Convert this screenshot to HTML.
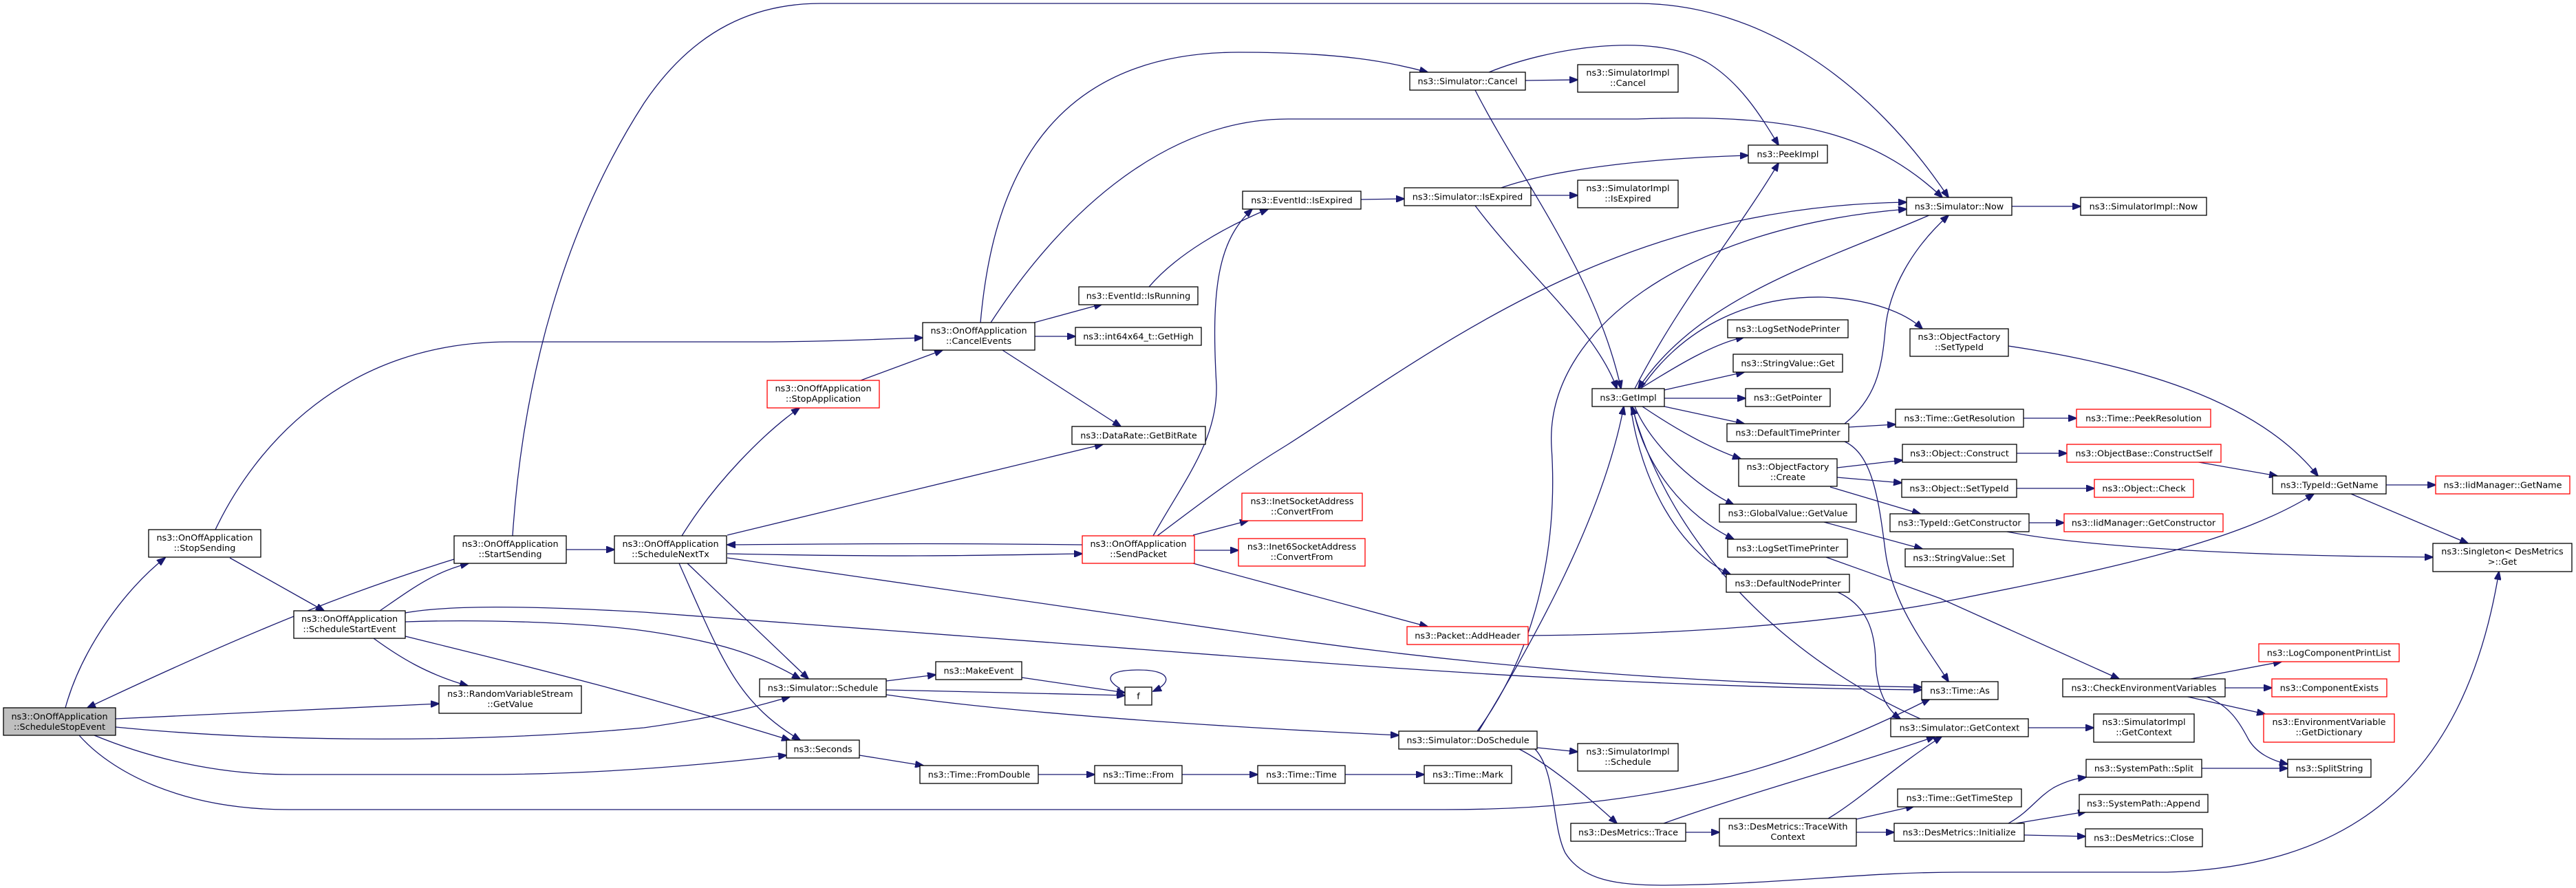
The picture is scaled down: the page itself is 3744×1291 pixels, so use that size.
<!DOCTYPE html>
<html><head><meta charset="utf-8"><style>
html,body{margin:0;padding:0;background:#fff;}
svg{display:block;}
text{font-family:"DejaVu Sans","Liberation Sans",sans-serif;font-size:12.8px;fill:#000;text-anchor:middle;}
.n{fill:#fff;stroke:#000;stroke-width:1.3;}
.r{fill:#fff;stroke:#ff0000;stroke-width:1.3;}
.g{fill:#bfbfbf;stroke:#000;stroke-width:1.3;}
.e{fill:none;stroke:#191970;stroke-width:1.3;marker-end:url(#a);}
</style></head><body>
<svg width="3744" height="1291" viewBox="0 0 3744 1291" xmlns="http://www.w3.org/2000/svg">
<defs><marker id="a" markerWidth="13" markerHeight="10" refX="12" refY="5" orient="auto" markerUnits="userSpaceOnUse"><path d="M0,0 L13,5 L0,10 z" fill="#191970" stroke="#191970"/></marker></defs>
<rect width="3744" height="1291" fill="#fff"/>
<!-- edges -->
<path class="e" d="M95,1029 C118,945 180,858 240,811"/>
<path class="e" d="M168,1045 L638,1023"/>
<path class="e" d="M168,1057 C400,1080 700,1080 936,1058 C1030,1045 1090,1030 1148,1013"/>
<path class="e" d="M137,1069 C200,1095 300,1126 420,1126 L700,1126 C850,1126 1000,1115 1143,1098"/>
<path class="e" d="M115,1069 C160,1120 260,1177 420,1177 L2100,1177 C2400,1177 2600,1120 2805,1016"/>
<path class="e" d="M660,813 C540,850 400,900 127,1029"/>
<path class="e" d="M313,770 C370,650 500,497 740,497 L1100,497 C1200,497 1280,493 1341,491"/>
<path class="e" d="M334,811 L471,888"/>
<path class="e" d="M552,888 C600,855 630,832 681,819"/>
<path class="e" d="M543,928 C580,955 620,980 680,997"/>
<path class="e" d="M589,891 C650,880 760,880 936,890 L1872,960 C2200,985 2500,1000 2793,1003"/>
<path class="e" d="M589,904 C700,900 850,905 936,917 C1040,932 1100,950 1163,987"/>
<path class="e" d="M589,925 C750,965 900,1000 1148,1076"/>
<path class="e" d="M823,799 L893,799"/>
<path class="e" d="M745,779 C760,550 820,330 936,150 C1010,40 1100,5 1193,5 L2379,5 C2560,5 2720,120 2832,287"/>
<path class="e" d="M991,779 C1040,700 1110,630 1162,593"/>
<path class="e" d="M1251,553 L1370,509"/>
<path class="e" d="M1057,778 L1603,646"/>
<path class="e" d="M1057,805 C1300,810 1400,808 1573,805"/>
<path class="e" d="M1573,792 C1400,790 1300,790 1057,792"/>
<path class="e" d="M1057,811 L1872,929 C2200,975 2500,995 2793,999"/>
<path class="e" d="M999,819 L1175,987"/>
<path class="e" d="M987,819 C1050,960 1070,1020 1163,1076"/>
<path class="e" d="M1425,469 C1440,300 1500,76 1800,76 C1950,76 2020,90 2075,105"/>
<path class="e" d="M1440,469 C1550,300 1700,173 1872,173 L2380,173 C2600,165 2720,190 2823,287"/>
<path class="e" d="M1503,469 L1602,442"/>
<path class="e" d="M1504,489 L1563,489"/>
<path class="e" d="M1457,509 L1629,620"/>
<path class="e" d="M1670,417 C1710,370 1780,330 1843,304"/>
<path class="e" d="M1676,779 C1720,700 1770,640 1768,560 C1760,420 1770,350 1820,304"/>
<path class="e" d="M1682,779 C1760,720 1800,690 1872,646 C2100,500 2350,300 2771,294"/>
<path class="e" d="M1734,778 L1814,757"/>
<path class="e" d="M1736,800 L1800,800"/>
<path class="e" d="M1734,819 L2075,911"/>
<path class="e" d="M1978,290 L2041,289"/>
<path class="e" d="M2217,117 L2293,116"/>
<path class="e" d="M2164,105 C2250,70 2400,45 2480,90 C2530,120 2560,170 2585,211"/>
<path class="e" d="M2144,131 C2210,260 2320,400 2356,565"/>
<path class="e" d="M2225,284 L2293,284"/>
<path class="e" d="M2179,274 C2260,245 2400,230 2541,226"/>
<path class="e" d="M2144,299 C2220,400 2320,480 2350,565"/>
<path class="e" d="M2376,565 C2440,440 2530,330 2585,237"/>
<path class="e" d="M2806,312 C2650,380 2470,430 2381,565"/>
<path class="e" d="M2147,1063 C2230,950 2265,800 2255,650 C2245,480 2450,330 2771,304"/>
<path class="e" d="M2149,1063 C2230,930 2330,750 2360,591"/>
<path class="e" d="M2791,1045 C2600,960 2430,800 2372,591"/>
<path class="e" d="M2385,565 C2450,470 2550,430 2650,432 C2720,435 2770,455 2794,478"/>
<path class="e" d="M2384,565 C2440,530 2490,500 2535,490"/>
<path class="e" d="M2419,567 L2535,541"/>
<path class="e" d="M2419,579 L2537,579"/>
<path class="e" d="M2419,591 L2535,616"/>
<path class="e" d="M2387,591 C2430,620 2480,650 2530,667"/>
<path class="e" d="M2376,591 C2400,650 2470,710 2520,734"/>
<path class="e" d="M2373,591 C2390,680 2450,750 2520,784"/>
<path class="e" d="M2370,591 C2385,700 2440,800 2515,835"/>
<path class="e" d="M2234,1087 L2293,1093"/>
<path class="e" d="M2206,1088 C2250,1110 2310,1160 2350,1197"/>
<path class="e" d="M2230,1088 C2262,1120 2255,1200 2275,1240 C2300,1280 2350,1287 2420,1287 C2600,1285 2700,1268 2850,1268 L3150,1268 C3400,1260 3580,1150 3632,831"/>
<path class="e" d="M1288,1010 C1500,1040 1800,1058 2033,1069"/>
<path class="e" d="M1288,990 L1360,981"/>
<path class="e" d="M1288,1003 L1635,1011"/>
<path class="e" d="M1485,985 L1635,1007"/>
<path class="e" d="M1628,1001 C1605,988 1608,974 1655,974 C1702,974 1705,992 1676,1005"/>
<path class="e" d="M1249,1098 L1342,1113"/>
<path class="e" d="M1509,1126 L1591,1126"/>
<path class="e" d="M1718,1126 L1828,1126"/>
<path class="e" d="M1955,1126 L2070,1126"/>
<path class="e" d="M2450,1210 L2499,1210"/>
<path class="e" d="M2418,1197 C2550,1150 2700,1110 2812,1071"/>
<path class="e" d="M2657,1190 C2700,1165 2760,1110 2822,1071"/>
<path class="e" d="M2698,1191 L2782,1172"/>
<path class="e" d="M2698,1210 L2753,1210"/>
<path class="e" d="M2919,1197 C2950,1180 2960,1160 2985,1145 C3000,1137 3015,1132 3032,1130"/>
<path class="e" d="M2930,1197 L3032,1180"/>
<path class="e" d="M2942,1214 L3031,1216"/>
<path class="e" d="M3200,1117 L3325,1117"/>
<path class="e" d="M3184,987 L3316,962"/>
<path class="e" d="M3234,1000 L3302,1000"/>
<path class="e" d="M3175,1012 L3292,1038"/>
<path class="e" d="M3205,1012 C3240,1025 3255,1050 3268,1075 C3280,1095 3300,1105 3325,1111"/>
<path class="e" d="M2654,810 C2710,830 2760,848 2820,870 L3080,987"/>
<path class="e" d="M2669,860 C2715,880 2725,920 2726,960 C2727,1000 2740,1030 2762,1045"/>
<path class="e" d="M2221,924 C2500,922 2700,900 2850,870 C3050,830 3250,790 3363,718"/>
<path class="e" d="M2919,503 C3100,530 3280,580 3369,692"/>
<path class="e" d="M3190,671 L3310,692"/>
<path class="e" d="M3468,705 L3540,705"/>
<path class="e" d="M3417,718 L3587,790"/>
<path class="e" d="M2912,772 C3000,790 3200,808 3536,810"/>
<path class="e" d="M2949,760 L3000,760"/>
<path class="e" d="M2931,659 L3004,659"/>
<path class="e" d="M2931,710 L3044,710"/>
<path class="e" d="M2687,621 L2755,617"/>
<path class="e" d="M2681,616 C2725,580 2735,540 2740,480 C2745,420 2780,360 2832,313"/>
<path class="e" d="M2681,642 C2720,660 2730,720 2740,800 C2750,880 2800,940 2832,991"/>
<path class="e" d="M2670,680 L2765,669"/>
<path class="e" d="M2670,694 L2764,702"/>
<path class="e" d="M2660,708 L2791,747"/>
<path class="e" d="M2651,759 L2794,798"/>
<path class="e" d="M2924,300 L3024,300"/>
<path class="e" d="M2941,608 L3018,608"/>
<path class="e" d="M2948,1058 L3043,1058"/>
<!-- nodes -->
<rect class="g" x="5" y="1029" width="163" height="40"/><text x="86.5" y="1046">ns3::OnOffApplication</text><text x="86.5" y="1061">::ScheduleStopEvent</text>
<rect class="n" x="216" y="770" width="163" height="40"/><text x="297.5" y="786">ns3::OnOffApplication</text><text x="297.5" y="801">::StopSending</text>
<rect class="n" x="660" y="779" width="163" height="40"/><text x="741.5" y="795">ns3::OnOffApplication</text><text x="741.5" y="810">::StartSending</text>
<rect class="n" x="427" y="888" width="162" height="40"/><text x="508" y="904">ns3::OnOffApplication</text><text x="508" y="919">::ScheduleStartEvent</text>
<rect class="n" x="638" y="997" width="207" height="40"/><text x="741.5" y="1013">ns3::RandomVariableStream</text><text x="741.5" y="1028">::GetValue</text>
<rect class="n" x="893" y="779" width="163" height="40"/><text x="974.5" y="795">ns3::OnOffApplication</text><text x="974.5" y="810">::ScheduleNextTx</text>
<rect class="n" x="1341" y="469" width="163" height="40"/><text x="1422.5" y="485">ns3::OnOffApplication</text><text x="1422.5" y="500">::CancelEvents</text>
<rect class="r" x="1115" y="553" width="163" height="40"/><text x="1196.5" y="569">ns3::OnOffApplication</text><text x="1196.5" y="584">::StopApplication</text>
<rect class="n" x="1568" y="417" width="173" height="26"/><text x="1654.5" y="434.5">ns3::EventId::IsRunning</text>
<rect class="n" x="1563" y="476" width="183" height="26"/><text x="1654.5" y="493.5">ns3::int64x64_t::GetHigh</text>
<rect class="n" x="1558" y="620" width="194" height="26"/><text x="1655" y="637.5">ns3::DataRate::GetBitRate</text>
<rect class="r" x="1573" y="779" width="163" height="40"/><text x="1654.5" y="795">ns3::OnOffApplication</text><text x="1654.5" y="810">::SendPacket</text>
<rect class="r" x="1805" y="717" width="175" height="40"/><text x="1892.5" y="733">ns3::InetSocketAddress</text><text x="1892.5" y="748">::ConvertFrom</text>
<rect class="r" x="1800" y="783" width="184" height="40"/><text x="1892" y="799">ns3::Inet6SocketAddress</text><text x="1892" y="814">::ConvertFrom</text>
<rect class="n" x="1104" y="987" width="184" height="26"/><text x="1196" y="1004.5">ns3::Simulator::Schedule</text>
<rect class="n" x="1360" y="962" width="125" height="26"/><text x="1422.5" y="979.5">ns3::MakeEvent</text>
<rect class="n" x="1635" y="999" width="39" height="26"/><text x="1654.5" y="1016.5">f</text>
<rect class="n" x="1143" y="1076" width="106" height="26"/><text x="1196" y="1093.5">ns3::Seconds</text>
<rect class="n" x="1337" y="1113" width="172" height="26"/><text x="1423" y="1130.5">ns3::Time::FromDouble</text>
<rect class="n" x="1591" y="1113" width="127" height="26"/><text x="1654.5" y="1130.5">ns3::Time::From</text>
<rect class="n" x="1828" y="1113" width="127" height="26"/><text x="1891.5" y="1130.5">ns3::Time::Time</text>
<rect class="n" x="2070" y="1113" width="127" height="26"/><text x="2133.5" y="1130.5">ns3::Time::Mark</text>
<rect class="n" x="1806" y="278" width="172" height="26"/><text x="1892" y="295.5">ns3::EventId::IsExpired</text>
<rect class="n" x="2049" y="105" width="168" height="26"/><text x="2133" y="122.5">ns3::Simulator::Cancel</text>
<rect class="n" x="2293" y="94" width="146" height="40"/><text x="2366" y="110">ns3::SimulatorImpl</text><text x="2366" y="125">::Cancel</text>
<rect class="n" x="2041" y="273" width="184" height="26"/><text x="2133" y="290.5">ns3::Simulator::IsExpired</text>
<rect class="n" x="2293" y="262" width="146" height="40"/><text x="2366" y="278">ns3::SimulatorImpl</text><text x="2366" y="293">::IsExpired</text>
<rect class="n" x="2541" y="211" width="115" height="26"/><text x="2598.5" y="228.5">ns3::PeekImpl</text>
<rect class="n" x="2771" y="287" width="153" height="26"/><text x="2847.5" y="304.5">ns3::Simulator::Now</text>
<rect class="n" x="3024" y="287" width="183" height="26"/><text x="3115.5" y="304.5">ns3::SimulatorImpl::Now</text>
<rect class="n" x="2314" y="565" width="105" height="26"/><text x="2366.5" y="582.5">ns3::GetImpl</text>
<rect class="n" x="2511" y="465" width="175" height="26"/><text x="2598.5" y="482.5">ns3::LogSetNodePrinter</text>
<rect class="n" x="2519" y="515" width="159" height="26"/><text x="2598.5" y="532.5">ns3::StringValue::Get</text>
<rect class="n" x="2537" y="565" width="123" height="26"/><text x="2598.5" y="582.5">ns3::GetPointer</text>
<rect class="n" x="2510" y="616" width="177" height="26"/><text x="2598.5" y="633.5">ns3::DefaultTimePrinter</text>
<rect class="n" x="2776" y="478" width="143" height="40"/><text x="2847.5" y="494">ns3::ObjectFactory</text><text x="2847.5" y="509">::SetTypeId</text>
<rect class="n" x="2527" y="667" width="143" height="40"/><text x="2598.5" y="683">ns3::ObjectFactory</text><text x="2598.5" y="698">::Create</text>
<rect class="n" x="2499" y="733" width="199" height="26"/><text x="2598.5" y="750.5">ns3::GlobalValue::GetValue</text>
<rect class="n" x="2511" y="784" width="174" height="26"/><text x="2598" y="801.5">ns3::LogSetTimePrinter</text>
<rect class="n" x="2509" y="835" width="179" height="26"/><text x="2598.5" y="852.5">ns3::DefaultNodePrinter</text>
<rect class="r" x="2045" y="911" width="176" height="26"/><text x="2133" y="928.5">ns3::Packet::AddHeader</text>
<rect class="n" x="2033" y="1063" width="201" height="26"/><text x="2133.5" y="1080.5">ns3::Simulator::DoSchedule</text>
<rect class="n" x="2293" y="1081" width="146" height="40"/><text x="2366" y="1097">ns3::SimulatorImpl</text><text x="2366" y="1112">::Schedule</text>
<rect class="n" x="2283" y="1197" width="167" height="26"/><text x="2366.5" y="1214.5">ns3::DesMetrics::Trace</text>
<rect class="n" x="2499" y="1190" width="199" height="40"/><text x="2598.5" y="1206">ns3::DesMetrics::TraceWith</text><text x="2598.5" y="1221">Context</text>
<rect class="n" x="2755" y="595" width="186" height="26"/><text x="2848" y="612.5">ns3::Time::GetResolution</text>
<rect class="r" x="3018" y="595" width="195" height="26"/><text x="3115.5" y="612.5">ns3::Time::PeekResolution</text>
<rect class="n" x="2765" y="646" width="166" height="26"/><text x="2848" y="663.5">ns3::Object::Construct</text>
<rect class="r" x="3004" y="646" width="224" height="26"/><text x="3116" y="663.5">ns3::ObjectBase::ConstructSelf</text>
<rect class="n" x="2764" y="697" width="167" height="26"/><text x="2847.5" y="714.5">ns3::Object::SetTypeId</text>
<rect class="r" x="3044" y="697" width="144" height="26"/><text x="3116" y="714.5">ns3::Object::Check</text>
<rect class="n" x="2747" y="747" width="202" height="26"/><text x="2848" y="764.5">ns3::TypeId::GetConstructor</text>
<rect class="r" x="3000" y="747" width="231" height="26"/><text x="3115.5" y="764.5">ns3::IidManager::GetConstructor</text>
<rect class="n" x="2769" y="798" width="157" height="26"/><text x="2847.5" y="815.5">ns3::StringValue::Set</text>
<rect class="n" x="3303" y="692" width="165" height="26"/><text x="3385.5" y="709.5">ns3::TypeId::GetName</text>
<rect class="r" x="3540" y="692" width="195" height="26"/><text x="3637.5" y="709.5">ns3::IidManager::GetName</text>
<rect class="n" x="3536" y="790" width="202" height="41"/><text x="3637" y="806">ns3::Singleton&lt; DesMetrics</text><text x="3637" y="821"> &gt;::Get</text>
<rect class="n" x="2793" y="991" width="111" height="26"/><text x="2848.5" y="1008.5">ns3::Time::As</text>
<rect class="n" x="2748" y="1045" width="200" height="26"/><text x="2848" y="1062.5">ns3::Simulator::GetContext</text>
<rect class="n" x="3043" y="1038" width="146" height="41"/><text x="3116" y="1054">ns3::SimulatorImpl</text><text x="3116" y="1069">::GetContext</text>
<rect class="n" x="2998" y="987" width="236" height="26"/><text x="3116" y="1004.5">ns3::CheckEnvironmentVariables</text>
<rect class="r" x="3283" y="936" width="204" height="26"/><text x="3385" y="953.5">ns3::LogComponentPrintList</text>
<rect class="r" x="3302" y="987" width="167" height="26"/><text x="3385.5" y="1004.5">ns3::ComponentExists</text>
<rect class="r" x="3290" y="1038" width="190" height="41"/><text x="3385" y="1054">ns3::EnvironmentVariable</text><text x="3385" y="1069">::GetDictionary</text>
<rect class="n" x="2758" y="1147" width="180" height="26"/><text x="2848" y="1164.5">ns3::Time::GetTimeStep</text>
<rect class="n" x="2753" y="1197" width="189" height="26"/><text x="2847.5" y="1214.5">ns3::DesMetrics::Initialize</text>
<rect class="n" x="3032" y="1104" width="168" height="26"/><text x="3116" y="1121.5">ns3::SystemPath::Split</text>
<rect class="n" x="3325" y="1104" width="121" height="26"/><text x="3385.5" y="1121.5">ns3::SplitString</text>
<rect class="n" x="3022" y="1155" width="187" height="26"/><text x="3115.5" y="1172.5">ns3::SystemPath::Append</text>
<rect class="n" x="3031" y="1205" width="170" height="26"/><text x="3116" y="1222.5">ns3::DesMetrics::Close</text>
</svg>
</body></html>
